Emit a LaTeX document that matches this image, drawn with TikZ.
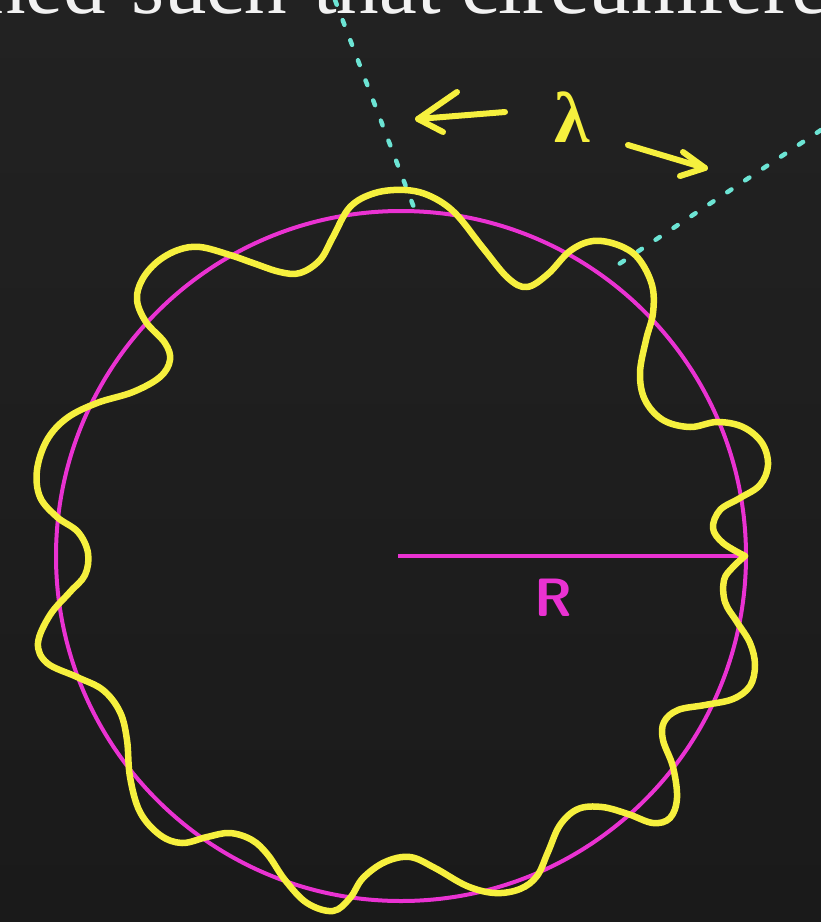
\documentclass[tikz,border=0pt]{standalone}
\usepackage{fontspec}
\newfontfamily\topserif{Liberation Serif}
\definecolor{bgtop}{RGB}{34,34,34}
\definecolor{bgbot}{RGB}{26,26,26}
\definecolor{wavey}{RGB}{246,240,62}
\definecolor{magc}{RGB}{234,50,210}
\definecolor{cyanl}{RGB}{108,228,212}
\definecolor{txtw}{RGB}{242,242,242}
\tikzset{
  waveline/.style={draw=wavey, line width=6.5pt, line cap=round, line join=round},
  circline/.style={draw=magc, line width=4pt},
  dotline/.style={draw=cyanl, line width=4.5pt, line cap=round, dash pattern=on 5pt off 16.5pt},
  handarrow/.style={draw=wavey, line width=6pt, line cap=round, line join=round},
  topword/.style={text=txtw, inner sep=0pt, font=\topserif\fontsize{85}{90}\selectfont},
}
\begin{document}
\begin{tikzpicture}[x=1pt,y=-1pt]
\useasboundingbox (0,0) rectangle (821,922);
\shade[top color=bgtop, bottom color=bgbot] (0,0) rectangle (821,922);
% top text fragments
\node[topword, anchor=base east] (w1) at (106,13) {ned};
\node[topword, anchor=base west] (w2) at (131,13) {such};
\node[topword, anchor=base west] (w3) at (313,13) {that};
\node[topword, anchor=base west] (w4) at (461,13) {circumfere};
% circle and radius
\coordinate (c) at (401,556);
\draw[circline] (c) circle[radius=345];
\coordinate (r0) at (398,556);
\coordinate (r1) at (746,556);
\draw[circline] (r0) -- (r1);
\node[text=magc, font=\sffamily\bfseries\fontsize{54}{60}\selectfont, inner sep=0pt] (rl) at (553,598) {R};
% dotted lines
\coordinate (d1a) at (335,0);
\coordinate (d1b) at (416,213);
\coordinate (d2a) at (821,130);
\coordinate (d2b) at (610,270);
\draw[dotline] (d1a) -- (d1b);
\draw[dotline] (d2a) -- (d2b);
% lambda with arrows
\node[text=wavey, font=\topserif\bfseries\fontsize{72}{76}\selectfont, inner sep=0pt] (lam) at (572,117) {λ};
\coordinate (la0) at (505,112);
\coordinate (la1) at (418,119);
\coordinate (lh1) at (457,92);
\coordinate (lh2) at (443,132);
\draw[handarrow] (la0) -- (la1);
\draw[handarrow] (lh1) -- (la1) -- (lh2);
\coordinate (ra0) at (628,145);
\coordinate (ra1) at (705,168);
\coordinate (rh1) at (683,152);
\coordinate (rh2) at (680,176);
\draw[handarrow] (ra0) -- (ra1);
\draw[handarrow] (rh1) -- (ra1) -- (rh2);
% wavy yellow curve
\draw[waveline] plot[smooth, tension=0.6] coordinates {
(745,556) (723,543) (713,528) (720,510) (740,498) (760,485) (768,465) (762,443)
(743,427) (717,422) (690,427) (663,420) (645,400) (640,373) (646,340) (653,313)
(652,285) (638,258) (618,245) (593,241) (570,251) (548,274) (527,287) (508,278)
(483,248) (455,213) (430,196) (405,190) (375,193) (350,207) (333,237) (320,260)
(300,273) (280,272) (253,263) (230,255) (200,247) (178,250) (157,262) (142,280)
(137,300) (146,322) (165,343) (170,360) (160,377) (133,392) (97,403) (67,418)
(47,440) (37,470) (40,497) (57,517) (78,532) (88,553) (85,575) (70,592)
(50,615) (38,643) (47,663) (77,677) (103,690) (120,712) (127,740) (130,777)
(140,812) (160,835) (182,843) (207,837) (230,833) (252,840) (268,855) (285,880)
(307,903) (333,911) (350,898) (363,878) (385,862) (410,857) (435,868) (467,886)
(495,893) (520,889) (537,876) (548,852) (560,825) (578,809) (602,807) (628,814)
(653,823) (670,818) (677,798) (673,767) (663,740) (664,722) (678,710) (705,705)
(733,699) (750,686) (755,665) (750,643) (737,622) (725,602) (724,580) (733,567)
(745,556)};
\end{tikzpicture}
\end{document}
